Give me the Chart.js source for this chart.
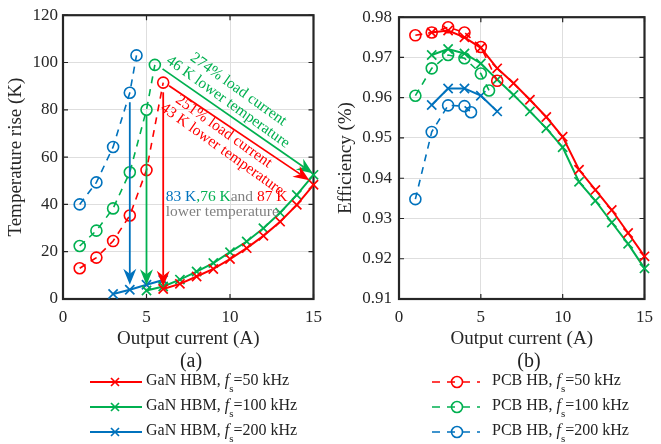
<!DOCTYPE html>
<html>
<head>
<meta charset="utf-8">
<script src="https://cdn.jsdelivr.net/npm/chart.js@4.4.0/dist/chart.umd.min.js"></script>
<style>
  body { margin: 0; background: #fff; width: 661px; height: 444px; position: relative; overflow: hidden;
         font-family: "Liberation Serif", "Times New Roman", serif; color: #222; }
  canvas { position: absolute; top: 0; }
  #tempChart { left: 0; }
  #effChart { left: 330px; }
  .cap { position: absolute; font-size: 20px; transform: translate(-50%, -50%); }
  .leg { position: absolute; height: 24px; font-size: 16px; display: flex; align-items: center; white-space: nowrap; }
  .leg svg { margin-right: 4px; }
  .leg sub { font-size: 11px; vertical-align: -7px; }
</style>
</head>
<body>
<canvas id="tempChart" width="330" height="350"></canvas>
<canvas id="effChart" width="331" height="350"></canvas>
<div class="cap" style="left:191px;top:360px">(a)</div>
<div class="cap" style="left:529px;top:360px">(b)</div>
<div id="legend"></div>

<script>
// ---- data ----
const RED = '#ff0000', GREEN = '#00b050', BLUE = '#0072bd', GREY = '#808080';

const freqLabels = ['50 kHz', '100 kHz', '200 kHz'];

// (a) temperature rise (K) vs output current (A)
const gan50X  = [6, 7, 8, 9, 10, 11, 12, 13, 14, 15];
const gan50T  = [4.2, 6.4, 9.5, 12.7, 16.9, 21.5, 26.7, 32.7, 39.8, 48.3];
const gan100X = [5, 6, 7, 8, 9, 10, 11, 12, 13, 14, 15];
const gan100T = [3.6, 5.3, 8.2, 11.6, 15.2, 19.8, 24.3, 29.9, 36.5, 44.0, 52.5];
const gan200X = [3, 4, 5, 6];
const gan200T = [2.1, 3.9, 6.0, 8.0];

const pcb50X  = [1, 2, 3, 4, 5, 6];
const pcb50T  = [13.0, 17.5, 24.5, 35.3, 54.5, 91.5];
const pcb100X = [1, 2, 3, 4, 5, 5.5];
const pcb100T = [22.4, 28.9, 38.3, 53.6, 80.0, 99.0];
const pcb200X = [1, 2, 3, 4, 4.4];
const pcb200T = [40.0, 49.3, 64.3, 87.2, 103.0];

// (b) efficiency vs output current (A)
const ganEffX = [2, 3, 4, 5, 6, 7, 8, 9, 10, 11, 12, 13, 14, 15];
const gan50E  = [0.9762, 0.9767, 0.9750, 0.9724, 0.9673, 0.9636, 0.9595, 0.9552, 0.9503, 0.9421, 0.9371, 0.9321, 0.9264, 0.9206];
const gan100E = [0.9706, 0.9721, 0.9710, 0.9685, 0.9645, 0.9607, 0.9566, 0.9524, 0.9477, 0.9391, 0.9344, 0.9290, 0.9237, 0.9176];
const gan200EffX = [2, 3, 4, 5, 6];
const gan200E = [0.9582, 0.9623, 0.9623, 0.9605, 0.9566];
const pcb50E  = [0.9755, 0.9762, 0.9775, 0.9762, 0.9726, 0.9642];
const pcb100E = [0.9605, 0.9673, 0.9706, 0.9698, 0.9660, 0.9618];
const pcb200E = [0.9348, 0.9515, 0.9581, 0.9579, 0.9564];

// axes
const xTicks = [0, 5, 10, 15];
const tempRange = [0, 120], tempStep = 20;
const effRange = [0.91, 0.98], effStep = 0.01;

// annotations on (a), in data units
const dropArrows = [ // x, from, to
  [4, 83.2, 6.0, BLUE],
  [5, 77.6, 5.8, GREEN],
  [6, 87.4, 5.2, RED]
];
const slantArrows = [ // x0, y0, x1, y1
  [5.96, 97.3, 14.95, 53.2, GREEN],
  [6.35, 90.2, 14.75, 50.2, RED]
];
const slantNotes = [ // text, centre x, centre y
  ['274% load current', 10.5, 88.6, GREEN],
  ['46 K lower temperature', 9.88, 83.3, GREEN],
  ['251% load current', 9.62, 70.9, RED],
  ['43 K lower temperature', 9.53, 63.3, RED]
];
const dropNote = [['83 K', BLUE], [',76 K', GREEN], ['and', GREY], [' 87 K', RED]];
const dropNote2 = 'lower temperature';
const dropNoteAt = [6.15, 43.0];

// ---- helpers ----
const FONT = '"Liberation Serif", "Times New Roman", serif';

function pts(xs, ys) { return xs.map((x, i) => ({ x: x, y: ys[i] })); }

function ganSet(xs, ys, color) {
  return {
    data: pts(xs, ys), borderColor: color, backgroundColor: color, borderWidth: 2,
    pointStyle: 'crossRot', pointRadius: 6.5, pointBorderWidth: 1.7, pointBorderColor: color,
    pointHoverRadius: 6.5, tension: 0, clip: false
  };
}
function pcbSet(xs, ys, color) {
  return {
    data: pts(xs, ys), borderColor: color, backgroundColor: 'rgba(0,0,0,0)', borderWidth: 1.6,
    borderDash: [7, 6], pointStyle: 'circle', pointRadius: 5.5, pointBorderWidth: 1.6,
    pointBorderColor: color, pointBackgroundColor: 'rgba(0,0,0,0)', pointHoverRadius: 5.5,
    tension: 0, clip: false
  };
}

const framePlugin = {
  id: 'frame',
  beforeDatasetsDraw(chart) {
    const { ctx, chartArea: a, scales } = chart;
    ctx.save();
    ctx.strokeStyle = '#262626';
    ctx.lineWidth = 1.2;
    ctx.beginPath();
    scales.x.ticks.forEach(t => {
      const p = scales.x.getPixelForValue(t.value);
      ctx.moveTo(p, a.bottom); ctx.lineTo(p, a.bottom - 5);
      ctx.moveTo(p, a.top); ctx.lineTo(p, a.top + 5);
    });
    scales.y.ticks.forEach(t => {
      const p = scales.y.getPixelForValue(t.value);
      ctx.moveTo(a.left, p); ctx.lineTo(a.left + 5, p);
      ctx.moveTo(a.right, p); ctx.lineTo(a.right - 5, p);
    });
    ctx.stroke();
    ctx.lineWidth = 2.2;
    ctx.strokeRect(a.left, a.top, a.width, a.height);
    ctx.restore();
  }
};

function arrow(ctx, x0, y0, x1, y1, color) {
  const ang = Math.atan2(y1 - y0, x1 - x0), L = 16, W = 6.5, N = 5;
  ctx.strokeStyle = color; ctx.fillStyle = color; ctx.lineWidth = 1.8;
  ctx.beginPath();
  ctx.moveTo(x0, y0);
  ctx.lineTo(x1 - Math.cos(ang) * (L - N), y1 - Math.sin(ang) * (L - N));
  ctx.stroke();
  ctx.save();
  ctx.translate(x1, y1); ctx.rotate(ang);
  ctx.beginPath();
  ctx.moveTo(0, 0); ctx.lineTo(-L, -W); ctx.lineTo(-L + N, 0); ctx.lineTo(-L, W);
  ctx.closePath(); ctx.fill();
  ctx.restore();
}

const notesPlugin = {
  id: 'notes',
  afterDatasetsDraw(chart) {
    const { ctx, scales: { x, y } } = chart;
    ctx.save();
    dropArrows.forEach(([xv, y0, y1, c]) => {
      const px = x.getPixelForValue(xv);
      arrow(ctx, px, y.getPixelForValue(y0), px, y.getPixelForValue(y1), c);
    });
    slantArrows.forEach(([x0, y0, x1, y1, c]) => {
      arrow(ctx, x.getPixelForValue(x0), y.getPixelForValue(y0), x.getPixelForValue(x1), y.getPixelForValue(y1), c);
    });
    ctx.font = '15.5px ' + FONT;
    ctx.textAlign = 'center';
    ctx.textBaseline = 'middle';
    slantNotes.forEach(([txt, xv, yv, c]) => {
      ctx.save();
      ctx.translate(x.getPixelForValue(xv), y.getPixelForValue(yv));
      ctx.rotate(35.5 * Math.PI / 180);
      ctx.fillStyle = c;
      ctx.fillText(txt, 0, 0);
      ctx.restore();
    });
    ctx.textAlign = 'left';
    let px = x.getPixelForValue(dropNoteAt[0]);
    const py = y.getPixelForValue(dropNoteAt[1]);
    dropNote.forEach(([txt, c]) => {
      ctx.fillStyle = c;
      ctx.fillText(txt, px, py);
      px += ctx.measureText(txt).width;
    });
    ctx.fillStyle = GREY;
    ctx.fillText(dropNote2, x.getPixelForValue(dropNoteAt[0]), py + 15);
    ctx.restore();
  }
};

function axisOpts(range, step, title, yWidth, yPad, fmt) {
  const tickFont = { family: FONT, size: 17 };
  const titleFont = { family: FONT, size: 19 };
  return {
    x: {
      type: 'linear', min: 0, max: 15,
      afterBuildTicks: s => { s.ticks = xTicks.map(v => ({ value: v })); },
      grid: { color: '#dedede', lineWidth: 1, drawTicks: false },
      border: { display: false },
      ticks: { font: tickFont, color: '#262626', padding: 8, maxRotation: 0 },
      title: { display: true, text: 'Output current (A)', font: titleFont, color: '#262626', padding: { top: 0, bottom: 0 } },
      afterFit: s => { s.height = 51; }
    },
    y: {
      min: range[0], max: range[1],
      grid: { color: '#dedede', lineWidth: 1, drawTicks: false },
      border: { display: false },
      ticks: { font: tickFont, color: '#262626', padding: yPad, stepSize: step, callback: fmt },
      title: { display: true, text: title, font: titleFont, color: '#262626', padding: { top: 0, bottom: 0 } },
      afterFit: s => { s.width = yWidth; }
    }
  };
}

const common = {
  responsive: false, animation: false, events: [],
  plugins: { legend: { display: false }, tooltip: { enabled: false } }
};

new Chart(document.getElementById('tempChart'), {
  type: 'line',
  data: {
    datasets: [
      pcbSet(pcb50X, pcb50T, RED), pcbSet(pcb100X, pcb100T, GREEN), pcbSet(pcb200X, pcb200T, BLUE),
      ganSet(gan50X, gan50T, RED), ganSet(gan100X, gan100T, GREEN), ganSet(gan200X, gan200T, BLUE)
    ]
  },
  options: Object.assign({}, common, {
    layout: { padding: { left: 5, right: 11, top: 14, bottom: 0 } },
    scales: axisOpts(tempRange, tempStep, 'Temperature rise (K)', 58, 5, v => v)
  }),
  plugins: [framePlugin, notesPlugin]
});

new Chart(document.getElementById('effChart'), {
  type: 'line',
  data: {
    datasets: [
      pcbSet(pcb50X, pcb50E, RED), pcbSet(pcb100X, pcb100E, GREEN), pcbSet(pcb200X, pcb200E, BLUE),
      ganSet(ganEffX, gan50E, RED), ganSet(ganEffX, gan100E, GREEN), ganSet(gan200EffX, gan200E, BLUE)
    ]
  },
  options: Object.assign({}, common, {
    layout: { padding: { left: 5, right: 8, top: 14, bottom: 0 } },
    scales: axisOpts(effRange, effStep, 'Efficiency (%)', 64, 7, v => v.toFixed(2))
  }),
  plugins: [framePlugin]
});

// ---- legend below the plots ----
const legendColors = [RED, GREEN, BLUE];
const rowY = [370, 395, 420];
const legend = document.getElementById('legend');
legendColors.forEach((c, i) => {
  const g = document.createElement('div');
  g.className = 'leg';
  g.style.left = '90px'; g.style.top = rowY[i] + 'px';
  g.innerHTML = '<svg width="52" height="24"><line x1="0" y1="12" x2="52" y2="12" stroke="' + c + '" stroke-width="2"/>' +
    '<path d="M21 8L29 16M29 8L21 16" stroke="' + c + '" stroke-width="1.7"/></svg>' +
    '<span>GaN HBM, <i>f</i><sub>s</sub>=' + freqLabels[i] + '</span>';
  legend.appendChild(g);
  const p = document.createElement('div');
  p.className = 'leg';
  p.style.left = '432px'; p.style.top = rowY[i] + 'px';
  p.innerHTML = '<svg width="52" height="24"><line x1="0" y1="12" x2="48" y2="12" stroke="' + c + '" stroke-width="1.6" stroke-dasharray="8 7"/>' +
    '<circle cx="25" cy="12" r="5.5" fill="none" stroke="' + c + '" stroke-width="1.6"/></svg>' +
    '<span style="margin-left:4px">PCB HB, <i>f</i><sub>s</sub>=' + freqLabels[i] + '</span>';
  legend.appendChild(p);
});
</script>
</body>
</html>
